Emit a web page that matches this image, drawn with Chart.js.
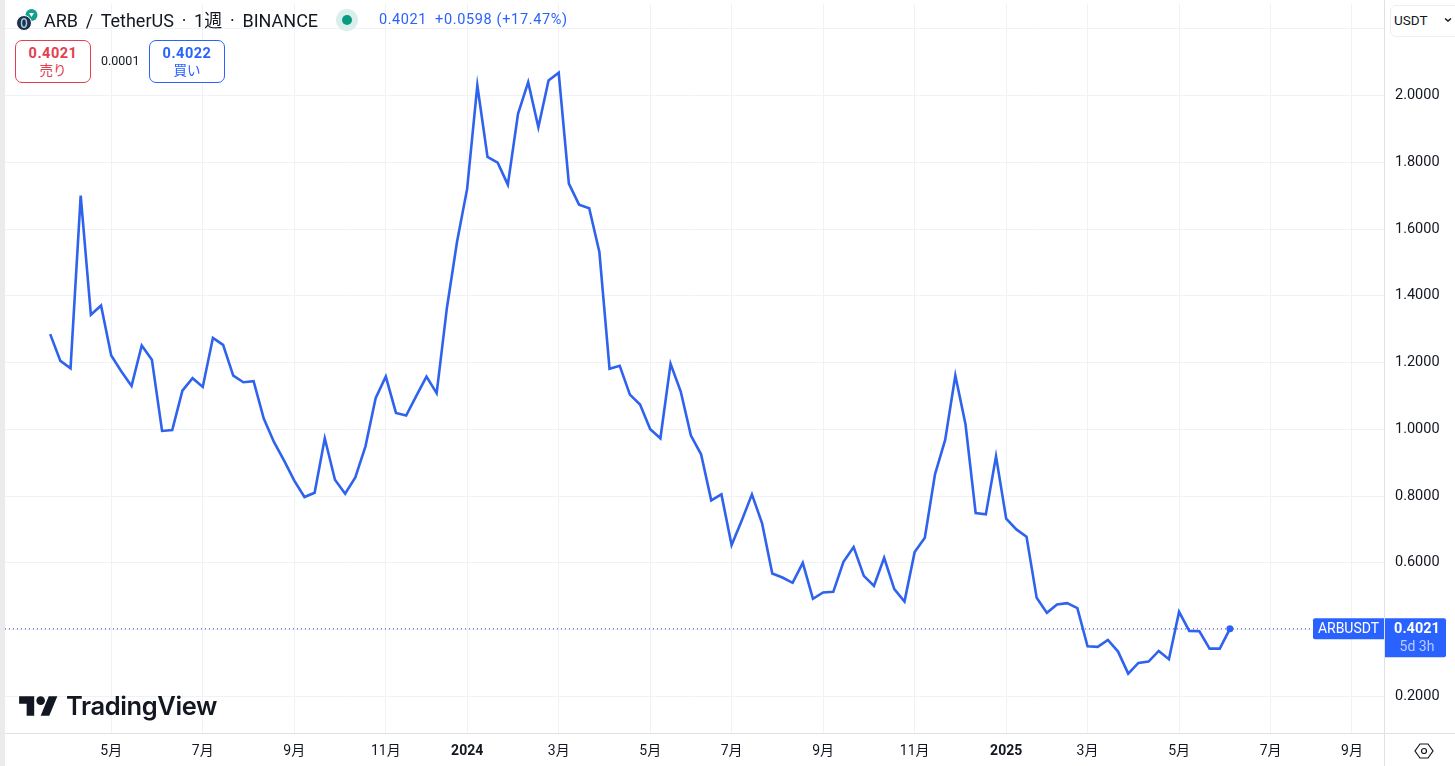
<!DOCTYPE html>
<html lang="ja">
<head>
<meta charset="utf-8">
<script src="https://cdn.jsdelivr.net/npm/chart.js@4"></script>
<style>
html,body{margin:0;padding:0;background:#fff;width:1455px;height:766px;overflow:hidden;font-family:Roboto,"Noto Sans CJK JP",sans-serif;color:#131722}
canvas{position:absolute;left:0;top:0}
.a{position:absolute;white-space:nowrap}
.box{position:absolute;top:40px;width:74px;height:41px;border-radius:7px;border:1px solid;background:#fff;text-align:center}
.box b{display:block;font-size:14.5px;line-height:17px;margin-top:4px;letter-spacing:.5px}
.box span{display:block;font-size:13.5px;line-height:17px}
</style>
</head>
<body>
<canvas id="c" width="1455" height="766"></canvas>
<div class="a" style="left:0;top:0;width:5px;height:766px;background:#ebebeb"></div>
<div class="a" style="left:5px;top:733px;width:1450px;height:1px;background:#dfe1e5"></div>
<div class="a" style="left:1384px;top:0;width:1px;height:766px;background:#dfe1e5"></div>

<svg class="a" style="left:16px;top:8px" width="24" height="24" viewBox="0 0 24 24">
<circle cx="15.500" cy="7" r="6" fill="#14a08c"/><path d="M13 5h5l-2.500 4z" fill="#fff"/>
<circle cx="8" cy="15" r="7.500" fill="#213147" stroke="#fff" stroke-width="1"/><ellipse cx="8" cy="15" rx="2.500" ry="4.200" fill="none" stroke="#9dcced" stroke-width="1.500"/>
</svg>
<div class="a" style="left:44px;top:9px;font-size:18px;line-height:24px;word-spacing:3.300px">ARB / TetherUS · 1週 · BINANCE</div>
<div class="a" style="left:336px;top:9px;width:22px;height:22px;border-radius:50%;background:#d9efeb"></div>
<div class="a" style="left:342px;top:15px;width:10px;height:10px;border-radius:50%;background:#089981"></div>
<div class="a" style="left:379px;top:11px;font-size:14.500px;line-height:18px;color:#2962ff;letter-spacing:.55px">0.4021</div>
<div class="a" style="left:435px;top:11px;font-size:14.500px;line-height:18px;color:#2962ff;letter-spacing:.65px">+0.0598 (+17.47%)</div>
<div class="box" style="left:15px;border-color:#e0404f;color:#e0404f"><b>0.4021</b><span>売り</span></div>
<div class="a" style="left:101px;top:53px;font-size:12.500px;line-height:16px">0.0001</div>
<div class="box" style="left:149px;border-color:#2962ff;color:#2962ff"><b>0.4022</b><span>買い</span></div>

<div class="a" style="left:1390px;top:5px;width:70px;height:30px;border:1px solid #eceef1;border-radius:6px;background:#fff"></div>
<div class="a" style="left:1394px;top:12px;font-size:13.500px;line-height:17px">USDT</div>
<svg class="a" style="left:1443px;top:16px" width="10" height="8" viewBox="0 0 10 8"><path d="M2 2.500l3 2.500 3-2.500" fill="none" stroke="#131722" stroke-width="1.500"/></svg>

<svg class="a" style="left:19px;top:692px" width="39" height="28" viewBox="0 0 36 26"><path d="M14 22H7V11H0V4h14v18zM28 22h-8l7.500-18h8L28 22z" fill="#131722"/><circle cx="20" cy="8" r="4" fill="#131722"/></svg>
<div class="a" style="left:66px;top:689px;font-family:Inter,sans-serif;font-weight:600;font-size:25.500px;line-height:34px;letter-spacing:-.4px;color:#131722">TradingView</div>

<svg class="a" style="left:1414px;top:741px" width="20" height="20" viewBox="0 0 20 20"><path d="M6 3h8l5 7-5 7H6l-5-7z" fill="none" stroke="#131722" stroke-width="1.200"/><circle cx="10" cy="10" r="2.500" fill="none" stroke="#131722" stroke-width="1.200"/></svg>
<script>
const prices = [
1.285,1.205,1.183,1.700,1.343,1.371,1.221,1.173,1.130,1.251,
1.208,0.995,0.998,1.116,1.153,1.127,1.274,1.253,1.161,1.141,
1.144,1.032,0.962,0.906,0.846,0.797,0.810,0.973,0.849,0.807,
0.856,0.949,1.093,1.158,1.049,1.041,1.100,1.158,1.108,1.362,
1.561,1.721,2.030,1.816,1.799,1.733,1.945,2.040,1.905,2.045,
2.068,1.736,1.673,1.662,1.531,1.181,1.190,1.104,1.074,1.000,
0.973,1.196,1.113,0.981,0.925,0.787,0.805,0.653,0.727,0.805,
0.718,0.568,0.556,0.540,0.600,0.492,0.511,0.513,0.603,0.647,
0.561,0.531,0.615,0.521,0.484,0.632,0.675,0.865,0.968,1.161,
1.015,0.749,0.745,0.919,0.732,0.700,0.678,0.495,0.450,0.475,
0.479,0.464,0.350,0.348,0.369,0.334,0.268,0.300,0.304,0.336,
0.311,0.453,0.396,0.395,0.343,0.343,0.4021];
const xTickIndex = [6,15,24,33,41,50,59,67,76,85,94,102,111,120,128];
const xTickLabels = ['5月','7月','9月','11月','2024','3月','5月','7月','9月','11月','2025','3月','5月','7月','9月'];
const yTickValues = [0.2,0.4,0.6,0.8,1.0,1.2,1.4,1.6,1.8,2.0,2.2];
const yHiddenLabels = [0.4,2.2];
const lastPrice = 0.4021;
const symbolTag = 'ARBUSDT';
const countdown = '5d 3h';
const xMin = -4.444, xMax = 131.15, yMin = 0.0901, yMax = 2.2756;
const blue = '#2962ff', lineBlue = '#2f63ee';
const fam = 'Roboto,"Noto Sans CJK JP",sans-serif';

const priceTag = {
  id:'priceTag',
  afterDraw(ch){
    const c = ch.ctx, y = ch.scales.y.getPixelForValue(lastPrice), R = ch.chartArea.right;
    c.save();
    c.fillStyle = blue;
    c.beginPath(); c.roundRect(R-71, y-10.5, 71, 21, [2,0,0,2]); c.fill();
    c.beginPath(); c.roundRect(R+1, y-10.5, 61, 39, [0,2,2,0]); c.fill();
    c.textBaseline='middle'; c.textAlign='center';
    c.fillStyle='#fff';
    c.font='14px '+fam;
    c.fillText(symbolTag, R-35.5, y+0.5);
    c.font='700 14.5px '+fam;
    c.fillText(lastPrice.toFixed(4), R+33, y+0.5);
    c.fillStyle='#b9cdff';
    c.font='14px '+fam;
    c.fillText(countdown, R+33, y+19);
    c.restore();
  }
};
function noPad(s){s.paddingTop=0;s.paddingBottom=0;s.paddingLeft=0;s.paddingRight=0;}
function isYear(v){return /^\d{4}$/.test(xTickLabels[xTickIndex.indexOf(v)]||'');}

new Chart(document.getElementById('c'),{
  type:'line',
  plugins:[priceTag],
  data:{datasets:[
    {data:prices.map((p,i)=>({x:i,y:p})),borderColor:lineBlue,backgroundColor:blue,borderWidth:2.6,tension:0,
     borderJoinStyle:'miter',pointRadius:c=>c.dataIndex===prices.length-1?3.5:0,pointBorderWidth:0,pointHoverRadius:0,order:1},
    {data:[{x:xMin,y:lastPrice},{x:xMax,y:lastPrice}],borderColor:'#2948c8',borderWidth:1,borderDash:[1,3],pointRadius:0,order:2}
  ]},
  options:{
    responsive:false,animation:false,devicePixelRatio:1,
    layout:{padding:{left:5,right:0,top:0,bottom:0}},
    plugins:{legend:{display:false},tooltip:{enabled:false}},
    scales:{
      x:{type:'linear',min:xMin,max:xMax,
        afterBuildTicks:s=>{s.ticks=xTickIndex.map(v=>({value:v}));},
        afterFit:s=>{s.height=33;noPad(s);},
        grid:{color:'#f1f2f5',drawTicks:false,lineWidth:1},
        border:{display:false},
        ticks:{autoSkip:false,maxRotation:0,padding:10,color:'#131722',
          callback:v=>xTickLabels[xTickIndex.indexOf(v)],
          font:c=>({family:fam,size:14,weight:(c.tick&&isYear(c.tick.value))?'700':'400'})}},
      y:{type:'linear',position:'right',min:yMin,max:yMax,
        afterBuildTicks:s=>{s.ticks=yTickValues.map(v=>({value:v}));},
        afterFit:s=>{s.width=71;noPad(s);},
        grid:{color:'#f1f2f5',drawTicks:false,lineWidth:1},
        border:{display:false},
        ticks:{padding:11,crossAlign:'near',color:'#131722',autoSkip:false,
          font:{family:fam,size:14.5},
          callback:v=>yHiddenLabels.includes(v)?'':v.toFixed(4)}}
    }
  }
});
</script>
</body>
</html>
